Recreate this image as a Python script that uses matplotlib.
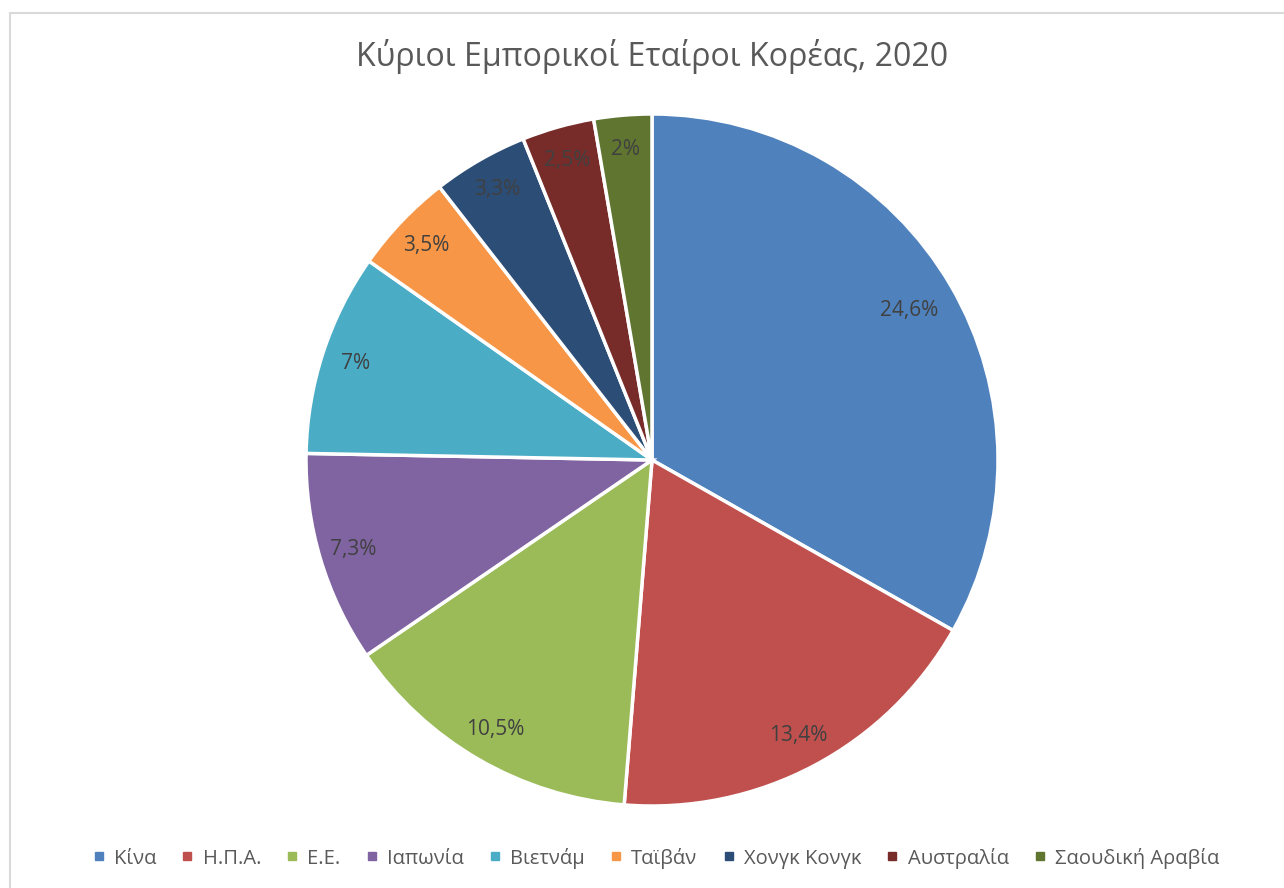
import matplotlib
matplotlib.use("Agg")
import matplotlib.pyplot as plt
from matplotlib.patches import Rectangle
from matplotlib.lines import Line2D
import numpy as np

plt.rcParams['font.family'] = ['Open Sans', 'DejaVu Sans']

# data
partners = ["Κίνα", "Η.Π.Α.", "Ε.Ε.", "Ιαπωνία", "Βιετνάμ", "Ταϊβάν",
            "Χονγκ Κονγκ", "Αυστραλία", "Σαουδική Αραβία"]
shares = [24.6, 13.4, 10.5, 7.3, 7.0, 3.5, 3.3, 2.5, 2.0]
share_labels = ["24,6%", "13,4%", "10,5%", "7,3%", "7%", "3,5%", "3,3%", "2,5%", "2%"]
colors = ["#4F81BD", "#C0504D", "#9BBB59", "#8064A2", "#4BACC6",
          "#F79646", "#2C4D75", "#772C2A", "#5F7530"]

W, H = 1284, 888
fig = plt.figure(figsize=(W / 100, H / 100), dpi=100)

# chart border (light grey, only left/top visible in the crop)
fig.patches.append(Rectangle((9.5 / W, -0.1), 1.2, 1.1 - 13.5 / H,
                             transform=fig.transFigure, fill=False,
                             edgecolor="#d9d9d9", linewidth=1.5))

cx, cy, r = 652, 460, 346
ax = fig.add_axes([(cx - r) / W, (H - cy - r) / H, 2 * r / W, 2 * r / H])
wedges, _ = ax.pie(shares, colors=colors, startangle=90, counterclock=False,
                   radius=1.0, wedgeprops=dict(edgecolor="white", linewidth=2.5))
ax.set_xlim(-1, 1)
ax.set_ylim(-1, 1)
ax.set_aspect("equal")
ax.axis("off")

for i, (w, lab) in enumerate(zip(wedges, share_labels)):
    ang = np.deg2rad((w.theta1 + w.theta2) / 2)
    d = 0.86 if i == 0 else 0.9
    ax.text(d * np.cos(ang), d * np.sin(ang), lab, ha="center", va="center",
            fontsize=15, color="#404040")

fig.text(652 / W, 1 - 57 / H, "Κύριοι Εμπορικοί Εταίροι Κορέας, 2020",
         ha="center", va="center", fontsize=23.1, color="#595959")

handles = [Line2D([], [], marker="s", linestyle="none", markersize=6,
                  markerfacecolor=c, markeredgecolor=c) for c in colors]
fig.legend(handles, partners, loc="center", bbox_to_anchor=(656 / W, 1 - 858 / H),
           ncol=len(partners), frameon=False, fontsize=14.5, labelcolor="#595959",
           handletextpad=0.45, columnspacing=1.25, handlelength=0.6)

fig.savefig("out.png", dpi=100)
